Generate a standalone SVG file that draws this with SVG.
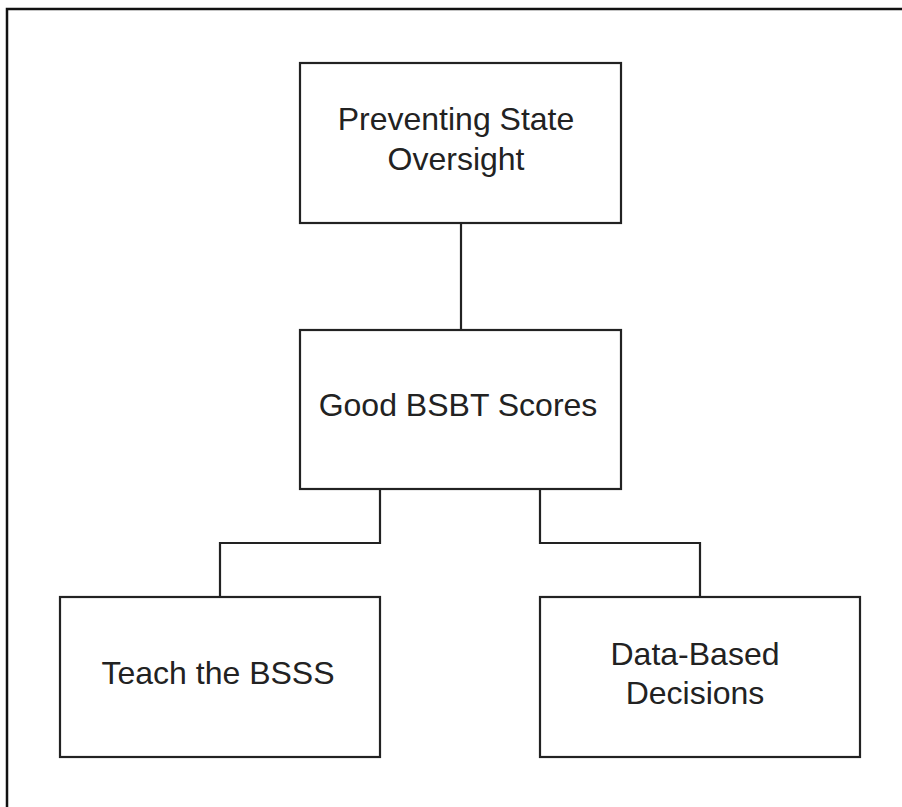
<svg xmlns="http://www.w3.org/2000/svg" width="902" height="807" viewBox="0 0 902 807">
  <style>
    .box { fill: #ffffff; stroke: #222222; stroke-width: 2.2; }
    .edge { fill: none; stroke: #222222; stroke-width: 2.2; }
    .label { font-family: "Liberation Sans", Arial, sans-serif; font-size: 32px; fill: #222222; text-anchor: middle; }
  </style>
  <rect x="0" y="0" width="902" height="807" fill="#ffffff"/>
  <!-- page frame -->
  <rect x="7" y="9" width="920" height="820" fill="none" stroke="#111111" stroke-width="2.5"/>

  <g id="connectors">
    <path class="edge" d="M461 223 V330"/>
    <path class="edge" d="M380 489 V543 H220 V597"/>
    <path class="edge" d="M540 489 V543 H700 V597"/>
  </g>

  <g id="preventing-state-oversight">
    <rect class="box" x="300" y="63" width="321" height="160"/>
    <text class="label" x="456" y="130">Preventing State</text>
    <text class="label" x="456" y="170">Oversight</text>
  </g>

  <g id="good-bsbt-scores">
    <rect class="box" x="300" y="330" width="321" height="159"/>
    <text class="label" x="458" y="416">Good BSBT Scores</text>
  </g>

  <g id="teach-the-bsss">
    <rect class="box" x="60" y="597" width="320" height="160"/>
    <text class="label" x="218" y="684">Teach the BSSS</text>
  </g>

  <g id="data-based-decisions">
    <rect class="box" x="540" y="597" width="320" height="160"/>
    <text class="label" x="695" y="665">Data-Based</text>
    <text class="label" x="695" y="704">Decisions</text>
  </g>
</svg>
